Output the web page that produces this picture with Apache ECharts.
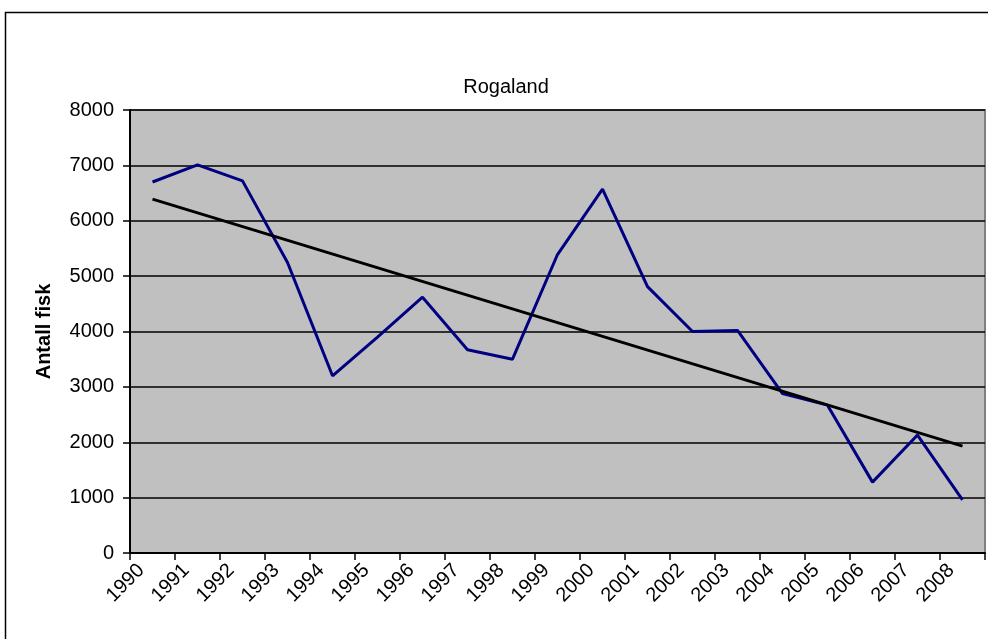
<!DOCTYPE html>
<html>
<head>
<meta charset="utf-8">
<script src="https://cdn.jsdelivr.net/npm/echarts@6/dist/echarts.min.js"></script>
<style>
  html, body { margin: 0; padding: 0; background: #ffffff; }
  #chart { width: 988px; height: 639px; }
</style>
</head>
<body>
<div id="chart"></div>
<script>
// Yearly fish counts for Rogaland
const years = ['1990','1991','1992','1993','1994','1995','1996','1997','1998','1999',
               '2000','2001','2002','2003','2004','2005','2006','2007','2008'];
const antallFisk = [6700, 7010, 6720, 5245, 3200, 3900, 4620, 3670, 3500, 5390,
                    6570, 4810, 4000, 4020, 2880, 2670, 1280, 2130, 960];
// Linear trend line endpoints (first and last year)
const trendYears = ['1990', '2008'];
const trendValues = [6390, 1930];
const yTicks = { min: 0, max: 8000, interval: 1000 };

const chart = echarts.init(document.getElementById('chart'), null, { renderer: 'canvas' });
const font = 'Liberation Sans, Arial, sans-serif';

chart.setOption({
  animation: false,
  backgroundColor: '#ffffff',
  title: {
    text: 'Rogaland',
    left: 501, top: 72, textAlign: 'center',
    textStyle: { fontFamily: font, fontSize: 20, fontWeight: 'normal', color: '#000' }
  },
  graphic: [{
    type: 'rect', silent: true, z: -1,
    shape: { x: 5.5, y: 12.5, width: 1000, height: 700 },
    style: { fill: 'none', stroke: '#000', lineWidth: 1.5 }
  }],
  grid: {
    left: 130, top: 110, right: 3, bottom: 86,
    show: true, backgroundColor: '#c0c0c0', borderColor: '#808080', borderWidth: 2
  },
  xAxis: {
    type: 'category',
    data: years,
    boundaryGap: true,
    axisLine: { show: true, lineStyle: { color: '#000', width: 2 } },
    axisTick: { show: true, length: 7, lineStyle: { color: '#000', width: 1.5 } },
    axisLabel: {
      rotate: 45, interval: 0, margin: 3,
      padding: [0, 16, 0, 0],
      fontFamily: font, fontSize: 20, color: '#000'
    },
    splitLine: { show: false }
  },
  yAxis: {
    type: 'value',
    min: yTicks.min, max: yTicks.max, interval: yTicks.interval,
    name: 'Antall fisk',
    nameLocation: 'middle', nameGap: 76,
    nameTextStyle: { fontFamily: font, fontSize: 20, fontWeight: 'bold', color: '#000' },
    axisLine: { show: true, lineStyle: { color: '#000', width: 2 } },
    axisTick: { show: true, length: 7, lineStyle: { color: '#000', width: 1.5 } },
    axisLabel: {
      margin: 16, fontFamily: font, fontSize: 20, color: '#000',
      formatter: (v) => String(v)
    },
    splitLine: { show: true, lineStyle: { color: '#000', width: 1.5 } }
  },
  series: [
    {
      name: 'Antall fisk',
      type: 'line',
      data: antallFisk,
      symbol: 'none',
      lineStyle: { color: '#000080', width: 3 },
      z: 3
    },
    {
      name: 'Lineær trend',
      type: 'line',
      data: trendYears.map((y, i) => [y, trendValues[i]]),
      symbol: 'none',
      lineStyle: { color: '#000', width: 3 },
      z: 4
    }
  ]
});
</script>
</body>
</html>
